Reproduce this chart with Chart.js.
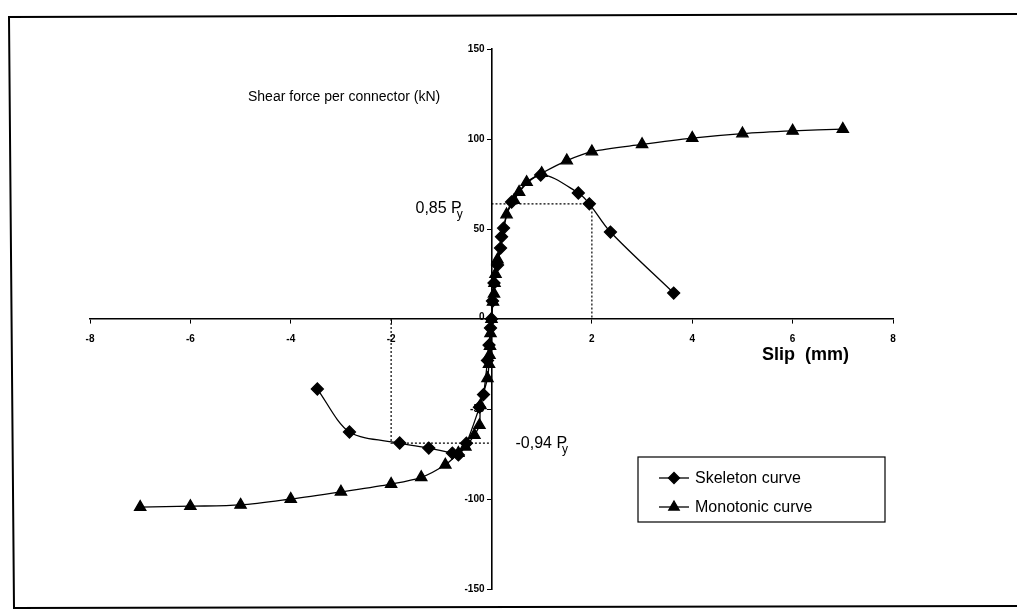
<!DOCTYPE html>
<html>
<head>
<meta charset="utf-8">
<title>Shear force vs slip</title>
<script src="https://cdn.jsdelivr.net/npm/chart.js@4.4.0/dist/chart.umd.min.js"></script>
<style>
    html, body { margin: 0; padding: 0; background: #fff; }
    #wrap { position: relative; width: 1017px; height: 610px; }
</style>
</head>
<body>
<div id="wrap"><canvas id="slipChart" width="1017" height="610"></canvas></div>
<script>
// Monotonic curve (triangles)
const slipMono = [-7, -6, -5, -4, -3, -2, -1.4, -0.92, -0.66, -0.52, -0.34, -0.24, -0.22, -0.08, -0.05, -0.04, -0.03, -0.02, 0,
    0.03, 0.05, 0.06, 0.08, 0.12, 0.3, 0.45, 0.55, 0.7, 1, 1.5, 2, 3, 4, 5, 6, 7];
const forceMono = [-104.5, -104, -103.3, -100, -96, -91.7, -88, -81, -74.5, -71, -64.5, -59, -48, -33, -25, -20, -15, -8, 0,
    9.5, 14, 20, 25, 33, 58, 66, 70.5, 76, 81, 88, 93, 97, 100.5, 103, 104.5, 105.5];

// Skeleton curve (diamonds)
const slipSkel = [-3.47, -2.83, -1.83, -1.25, -0.78, -0.66, -0.5, -0.24, -0.16, -0.08, -0.05, -0.02, 0,
    0.02, 0.05, 0.12, 0.18, 0.2, 0.24, 0.4, 0.98, 1.73, 1.95, 2.37, 3.63];
const forceSkel = [-38.9, -62.8, -68.9, -71.7, -74.5, -75.5, -69, -49, -42, -23, -14.5, -5, 0,
    10, 20, 30, 39.4, 45.7, 50.5, 65, 80, 70, 64, 48.3, 14.4];

// 0,85 Py and -0,94 Py markers (dotted)
const posYield = [[0, 64], [2, 64], [2, 0]];
const negYield = [[-2, 0], [-2, -69], [0, -69]];

const xTicks = [-8, -6, -4, -2, 0, 2, 4, 6, 8];
const yTicks = [-150, -100, -50, 0, 50, 100, 150];

const FONT = "Arial, 'Liberation Sans', Helvetica, sans-serif";

function toPoints(xs, ys) {
    return xs.map((x, i) => ({ x: x, y: ys[i] }));
}

// frame, axis texts, legend box
const decorPlugin = {
    id: 'decor',
    beforeDraw(chart) {
        const ctx = chart.ctx;
        ctx.save();
        ctx.strokeStyle = '#000';
        ctx.lineWidth = 2;
        ctx.beginPath();
        ctx.moveTo(1017, 14);
        ctx.lineTo(9, 17);
        ctx.lineTo(14, 608);
        ctx.lineTo(1017, 606);
        ctx.stroke();
        ctx.restore();
    },
    afterDraw(chart) {
        const ctx = chart.ctx;
        const xs = chart.scales.x;
        const ys = chart.scales.y;
        ctx.save();
        ctx.fillStyle = '#000';
        ctx.textBaseline = 'middle';

        // y tick labels, left of the centred axis
        ctx.font = 'bold 10px ' + FONT;
        ctx.textAlign = 'right';
        const axisX = xs.getPixelForValue(0);
        ys.ticks.forEach(t => {
            const py = ys.getPixelForValue(t.value);
            ctx.fillText(String(t.value), axisX - 7, t.value === 0 ? py - 2 : py);
        });

        ctx.font = '14px ' + FONT;
        ctx.textAlign = 'left';
        ctx.fillText('Shear force per connector (kN)', 248, 97);

        ctx.font = 'bold 18px ' + FONT;
        ctx.fillText('Slip  (mm)', 762, 355);

        // Py labels
        function pyLabel(text, x, y) {
            ctx.font = '16px ' + FONT;
            ctx.textAlign = 'left';
            ctx.fillText(text, x, y);
            const w = ctx.measureText(text).width;
            ctx.font = '12px ' + FONT;
            ctx.fillText('y', x + w - 5, y + 6);
        }
        pyLabel('0,85 P', axisX - 76, ys.getPixelForValue(64) + 5);
        pyLabel('-0,94 P', axisX + 24, ys.getPixelForValue(-69));

        // legend
        const lx = 638, ly = 457, lw = 247, lh = 65;
        ctx.fillStyle = '#fff';
        ctx.fillRect(lx, ly, lw, lh);
        ctx.strokeStyle = '#000';
        ctx.lineWidth = 1.2;
        ctx.strokeRect(lx, ly, lw, lh);
        const sets = chart.data.datasets.filter(d => d.legend);
        sets.forEach((ds, i) => {
            const y = ly + 21 + i * 29;
            ctx.strokeStyle = '#000';
            ctx.lineWidth = 1.3;
            ctx.beginPath();
            ctx.moveTo(lx + 21, y);
            ctx.lineTo(lx + 51, y);
            ctx.stroke();
            ctx.fillStyle = '#000';
            Chart.helpers.drawPoint(ctx, {
                pointStyle: ds.pointStyle, radius: ds.pointRadius - 0.5, borderWidth: 1
            }, lx + 36, y);
            ctx.font = '16px ' + FONT;
            ctx.textAlign = 'left';
            ctx.fillStyle = '#000';
            ctx.fillText(ds.label, lx + 57, y + 1);
        });
        ctx.restore();
    }
};

new Chart(document.getElementById('slipChart'), {
    type: 'scatter',
    data: {
        datasets: [
            {
                label: '0,85 Py',
                data: toPoints(posYield.map(p => p[0]), posYield.map(p => p[1])),
                showLine: true,
                borderColor: '#000',
                borderWidth: 1.2,
                borderDash: [2, 2],
                pointRadius: 0,
                order: 3
            },
            {
                label: '-0,94 Py',
                data: toPoints(negYield.map(p => p[0]), negYield.map(p => p[1])),
                showLine: true,
                borderColor: '#000',
                borderWidth: 1.2,
                borderDash: [2, 2],
                pointRadius: 0,
                order: 3
            },
            {
                label: 'Skeleton curve',
                legend: true,
                data: toPoints(slipSkel, forceSkel),
                showLine: true,
                tension: 0.3,
                borderColor: '#000',
                backgroundColor: '#000',
                borderWidth: 1.3,
                pointStyle: 'rectRot',
                pointRadius: 6,
                order: 2
            },
            {
                label: 'Monotonic curve',
                legend: true,
                data: toPoints(slipMono, forceMono),
                showLine: true,
                tension: 0.3,
                borderColor: '#000',
                backgroundColor: '#000',
                borderWidth: 1.3,
                pointStyle: 'triangle',
                pointRadius: 6.5,
                order: 1
            }
        ]
    },
    options: {
        responsive: false,
        animation: false,
        layout: { padding: { left: 90, right: 124, top: 49, bottom: 21 } },
        plugins: {
            legend: { display: false },
            tooltip: { enabled: false }
        },
        scales: {
            x: {
                type: 'linear',
                position: { y: 0 },
                min: xTicks[0],
                max: xTicks[xTicks.length - 1],
                afterBuildTicks: (axis) => { axis.ticks = xTicks.map(v => ({ value: v })); },
                border: { display: true, color: '#000', width: 1.6 },
                grid: { drawOnChartArea: false, drawTicks: true, tickLength: 4, color: '#000', tickColor: '#000' },
                ticks: {
                    color: '#000',
                    font: { family: FONT, size: 10, weight: 'bold' },
                    padding: 10,
                    callback: (v) => (v === 0 ? '' : v)
                }
            },
            y: {
                type: 'linear',
                position: { x: 0 },
                min: yTicks[0],
                max: yTicks[yTicks.length - 1],
                afterBuildTicks: (axis) => { axis.ticks = yTicks.map(v => ({ value: v })); },
                border: { display: true, color: '#000', width: 1.6 },
                grid: { drawOnChartArea: false, drawTicks: true, tickLength: 4, color: '#000', tickColor: '#000' },
                ticks: { display: false }
            }
        }
    },
    plugins: [decorPlugin]
});
</script>
</body>
</html>
